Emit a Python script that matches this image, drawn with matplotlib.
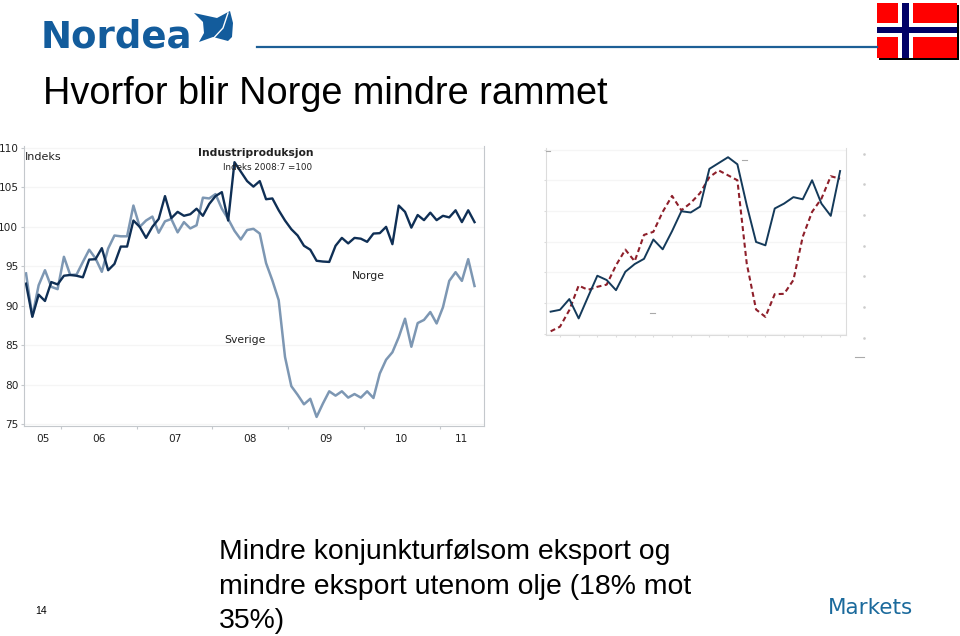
import matplotlib
matplotlib.use("Agg")
import matplotlib.pyplot as plt
from matplotlib.patches import Polygon, Rectangle

W, H = 960, 636

# Left chart: Industriproduksjon, Indeks 2008:7 = 100 (monthly)
norge = [92.8, 88.6, 91.4, 90.6, 93.0, 92.7, 93.8, 93.9, 93.8, 93.6, 95.85, 95.9,
         97.3, 94.5, 95.3, 97.5, 97.5, 100.8, 100.0, 98.6, 100.0, 101.0, 103.9, 101.1,
         101.9, 101.4, 101.6, 102.3, 101.4, 102.9, 103.9, 104.4, 100.8, 108.2, 107.0, 105.8,
         105.1, 105.8, 103.5, 103.6, 102.1, 100.8, 99.7, 98.9, 97.6, 97.1, 95.7, 95.6,
         95.55, 97.6, 98.6, 97.9, 98.6, 98.5, 98.1, 99.15, 99.2, 100.0, 97.8, 102.7,
         101.9, 99.9, 101.5, 100.85, 101.8, 100.85, 101.4, 101.2, 102.1, 100.6, 102.1, 100.6]
sverige = [94.1, 88.65, 92.6, 94.5, 92.4, 92.1, 96.2, 93.9, 93.95, 95.55, 97.1, 96.0,
           94.3, 97.25, 98.9, 98.8, 98.8, 102.7, 100.0, 100.8, 101.3, 99.25, 100.7, 101.0,
           99.3, 100.6, 99.8, 100.2, 103.7, 103.6, 104.15, 102.3, 101.0, 99.5, 98.4, 99.6,
           99.75, 99.15, 95.4, 93.2, 90.7, 83.5, 79.8, 78.7, 77.5, 78.2, 75.9, 77.6,
           79.15, 78.6, 79.15, 78.35, 78.8, 78.35, 79.15, 78.3, 81.4, 83.15, 84.1, 86.0,
           88.35, 84.8, 87.8, 88.2, 89.2, 87.75, 89.8, 93.15, 94.25, 93.15, 95.9, 92.5]
left_yticks = [75, 80, 85, 90, 95, 100, 105, 110]
year_labels = ["05", "06", "07", "08", "09", "10", "11"]
year_breaks = [5.5, 17.5, 29.5, 41.5, 53.5, 65.5]
year_label_pos = [2.6, 11.5, 23.5, 35.5, 47.5, 59.5, 69]

# Right chart: axis labels are not readable in the picture, values are in grid steps
solid = [0.72, 0.78, 1.13, 0.5, 1.2, 1.89, 1.75, 1.42, 2.02, 2.27, 2.44, 3.07, 2.75, 3.34, 3.99, 3.95,
         4.14, 5.37, 5.56, 5.75, 5.52, 4.19, 2.99, 2.88, 4.08, 4.24, 4.45, 4.38, 5.0, 4.24, 3.84, 5.3]
dashed = [0.08, 0.23, 0.77, 1.57, 1.43, 1.53, 1.6, 2.23, 2.74, 2.36, 3.22, 3.32, 3.97, 4.49, 4.02, 4.26,
          4.58, 5.1, 5.32, 5.16, 5.0, 2.29, 0.79, 0.55, 1.29, 1.3, 1.75, 3.16, 3.97, 4.4, 5.13, 5.05]
right_yticks = [0, 1, 2, 3, 4, 5, 6]

DARK = "#0f2f55"
GREY_BLUE = "#7d97b3"
AXIS = "#c4c8cc"
GRID = "#f5f5f5"
BLUE = "#135c9c"


def px_axes(fig, left, top, right, bottom):
    # axes placed by picture pixels
    return fig.add_axes([left / W, 1 - bottom / H, (right - left) / W, (bottom - top) / H])


plt.rcParams['font.family'] = ['Liberation Sans', 'DejaVu Sans']
fig = plt.figure(figsize=(W / 100, H / 100), dpi=100)

# Full page layer in pixel coordinates for the slide furniture
page = fig.add_axes([0, 0, 1, 1], zorder=5)
page.set_xlim(0, W)
page.set_ylim(H, 0)
page.axis("off")

#######################################
# Left chart                         ##
#######################################
ax1 = px_axes(fig, 24, 146, 484, 426)
months = range(len(norge))
ax1.plot(months, sverige, color=GREY_BLUE, lw=1.8)
ax1.plot(months, norge, color=DARK, lw=1.7)
ax1.set_xlim(-0.32, 72.5)
ax1.set_ylim(74.75, 110.25)
ax1.set_yticks(left_yticks)
ax1.set_xticks(year_breaks)
ax1.set_xticklabels([])
ax1.set_xticks(year_label_pos, minor=True)
ax1.set_xticklabels(year_labels, minor=True)
ax1.tick_params(axis="x", which="major", length=2, color=AXIS)
ax1.tick_params(axis="x", which="minor", length=0, pad=6)
ax1.tick_params(axis="y", length=2, color=AXIS, pad=2)
ax1.tick_params(which="both", labelsize=7.6, labelcolor="#222222")
for lab in ax1.get_xticklabels(minor=True) + ax1.get_yticklabels():
    lab.set_family("DejaVu Sans")
ax1.grid(axis="y", color=GRID, lw=1)
ax1.set_axisbelow(True)
ax1.spines["top"].set_visible(False)
for side in ["left", "right", "bottom"]:
    ax1.spines[side].set_color(AXIS)

verdana = dict(family="DejaVu Sans", color="#222222", va="center")
page.text(25, 157.5, "Indeks", fontsize=8, **verdana)
page.text(198, 153, "Industriproduksjon", fontsize=7.75, fontweight="bold", **verdana)
page.text(223, 168, "Indeks 2008:7 =100", fontsize=6.3, **verdana)
page.text(352, 276, "Norge", fontsize=7.8, **verdana)
page.text(224, 340, "Sverige", fontsize=7.8, **verdana)

#######################################
# Right chart                        ##
#######################################
ax2 = px_axes(fig, 545.7, 148, 845.7, 335.3)
quarters = range(len(solid))
ax2.plot(quarters, dashed, color="#8e1f2a", lw=1.5, ls=(0, (2.4, 1.6)))
ax2.plot(quarters, solid, color="#143a5a", lw=1.4)
ax2.set_xlim(-0.53, 31.6)
ax2.set_ylim(-0.05, 6.05)
ax2.set_yticks(right_yticks)
ax2.set_yticklabels([])
ax2.set_xticks(list(quarters)[1::2])
ax2.set_xticklabels([])
ax2.tick_params(axis="both", length=1.5, color="#dddddd")
ax2.grid(axis="y", color=GRID, lw=1)
ax2.set_axisbelow(True)
ax2.spines["top"].set_visible(False)
for side in ["left", "right", "bottom"]:
    ax2.spines[side].set_color("#dcdcdc")

# illegible tiny labels of the source chart
for x0, x1, y in [(546, 550, 151), (742, 747, 160), (650, 655, 313), (855, 864, 357)]:
    page.plot([x0, x1], [y, y], color="#aaaaaa", lw=0.8)
for tick in right_yticks:
    y_px = ax2.transData.transform((0, tick))[1]
    page.plot([864], [H - y_px + 4], marker="s", ms=0.8, color="#cccccc")

#######################################
# Slide furniture                    ##
#######################################
page.text(41, 37.5, "Nordea", family="DejaVu Sans", fontweight="bold", fontsize=26.7, color=BLUE, va="center")
sail = [(194, 13), (217, 18), (230, 11), (233, 23), (232, 37), (228, 41), (213, 37), (199, 42), (204, 33), (203, 22)]
page.add_patch(Polygon(sail, closed=True, fc=BLUE, ec="none"))
page.plot([228, 223, 210], [13, 28, 42], color="white", lw=1)
page.plot([257, 877], [47, 47], color="#1d5f96", lw=1.6)

page.add_patch(Rectangle((878.5, 5), 80, 54.5, fc="black", ec="none"))
page.add_patch(Rectangle((876.7, 3.3), 80, 54.4, fc="#ff0000", ec="none"))
page.add_patch(Rectangle((898, 3.3), 14.7, 54.4, fc="white", ec="none"))
page.add_patch(Rectangle((876.7, 23.3), 80, 13.4, fc="white", ec="none"))
page.add_patch(Rectangle((902, 3.3), 7.3, 54.4, fc="#000066", ec="none"))
page.add_patch(Rectangle((876.7, 27.3), 80, 6, fc="#000066", ec="none"))

page.text(43, 94, "Hvorfor blir Norge mindre rammet", fontsize=27.3, color="black", va="center")
page.text(219, 552, "Mindre konjunkturfølsom eksport og", fontsize=20.45, color="black", va="center")
page.text(219, 586.5, "mindre eksport utenom olje (18% mot", fontsize=20.45, color="black", va="center")
page.text(219, 620.5, "35%)", fontsize=20.45, color="black", va="center")
page.text(35, 611, "14", fontsize=7.5, color="black", va="center")
page.text(828, 608, "Markets", family="DejaVu Sans", fontsize=15.5, color="#1b6a9c", va="center")

fig.savefig("out.png", dpi=100)
